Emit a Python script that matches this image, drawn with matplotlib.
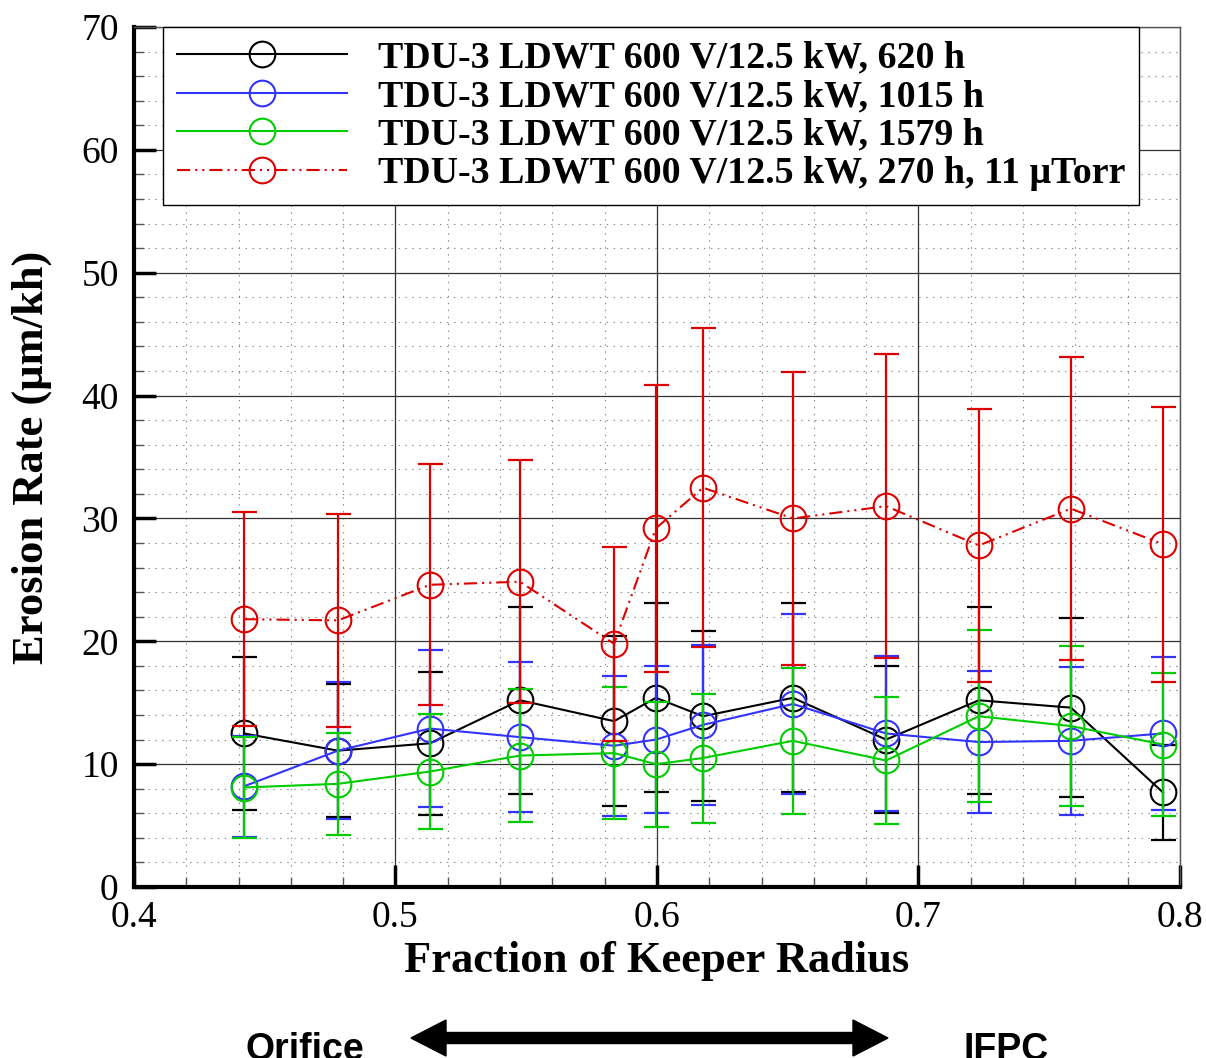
import matplotlib
matplotlib.use("Agg")
import matplotlib.pyplot as plt
from matplotlib.patches import FancyArrow
from matplotlib.ticker import MultipleLocator

plt.rcParams['font.family'] = ['Liberation Serif', 'DejaVu Serif']
plt.rcParams['lines.scale_dashes'] = False

# Fraction of keeper radius (same for all runs)
radius = [0.4421, 0.4780, 0.5132, 0.5476, 0.5836, 0.5996,
          0.6176, 0.6520, 0.6876, 0.7231, 0.7583, 0.7935]

# erosion rate (um/kh) and +/- uncertainty
rate_620 = [12.5, 11.1, 11.7, 15.2, 13.5, 15.4, 13.9, 15.4, 12.0, 15.2, 14.6, 7.7]
err_620 = [6.2, 5.4, 5.8, 7.6, 6.9, 7.7, 6.9, 7.7, 6.0, 7.6, 7.3, 3.9]

rate_1015 = [8.2, 11.1, 12.9, 12.2, 11.5, 12.0, 13.2, 14.9, 12.5, 11.8, 11.9, 12.5]
err_1015 = [4.1, 5.6, 6.4, 6.1, 5.7, 6.0, 6.5, 7.3, 6.3, 5.8, 6.0, 6.2]

rate_1579 = [8.1, 8.4, 9.4, 10.7, 10.9, 10.0, 10.5, 11.9, 10.3, 13.9, 13.1, 11.6]
err_1579 = [4.1, 4.15, 4.7, 5.4, 5.4, 5.1, 5.25, 5.95, 5.2, 7.0, 6.5, 5.8]

rate_270 = [21.8, 21.7, 24.6, 24.85, 19.8, 29.2, 32.5, 30.0, 31.0, 27.8, 30.8, 27.9]
err_270 = [8.7, 8.7, 9.8, 9.9, 7.9, 11.7, 13.0, 11.95, 12.35, 11.1, 12.3, 11.2]

labels = ['TDU-3 LDWT 600 V/12.5 kW, 620 h',
          'TDU-3 LDWT 600 V/12.5 kW, 1015 h',
          'TDU-3 LDWT 600 V/12.5 kW, 1579 h',
          'TDU-3 LDWT 600 V/12.5 kW, 270 h, 11 \u03bcTorr']
colors = ['black', '#3333ff', '#00cc00', '#dd0000']

fig = plt.figure(figsize=(12.06, 10.58), dpi=100)
ax = fig.add_axes([0.1111, 0.1616, 0.8673, 0.8129])

series = [(rate_620, err_620), (rate_1015, err_1015),
          (rate_1579, err_1579), (rate_270, err_270)]
handles = []
for (vals, errs), lab, col in zip(series, labels, colors):
    if col == '#dd0000':
        ls = (0, (9.5, 3.6, 1.5, 3.6, 1.5, 3.6))
    else:
        ls = '-'
    ln, = ax.plot(radius, vals, color=col, ls=ls, lw=1.5, marker='o', ms=18.5,
                  mfc='none', mec=col, mew=1.5, label=lab)
    ax.errorbar(radius, vals, yerr=errs, fmt='none', ecolor=col,
                elinewidth=1.6, capsize=9, capthick=1.6)
    handles.append(ln)

ax.set_xlim(0.4, 0.8)
ax.set_ylim(0, 70)
ax.xaxis.set_major_locator(MultipleLocator(0.1))
ax.xaxis.set_minor_locator(MultipleLocator(0.02))
ax.yaxis.set_major_locator(MultipleLocator(10))
ax.yaxis.set_minor_locator(MultipleLocator(2))
ax.set_axisbelow(True)
ax.grid(which='major', color='#333333', lw=0.9, ls='-')
ax.grid(which='minor', color='#888888', lw=0.8, ls=(0, (1, 4)))

for s in ['left', 'bottom']:
    ax.spines[s].set_linewidth(3)
    ax.spines[s].set_color('black')
for s in ['top', 'right']:
    ax.spines[s].set_linewidth(1)
    ax.spines[s].set_color('#555555')

ax.tick_params(which='major', direction='in', length=16, width=2.5,
               labelsize=27, top=False, right=False)
ax.tick_params(axis='y', which='major', pad=11)
ax.tick_params(axis='x', which='major', pad=9.5)
ax.tick_params(which='minor', direction='in', length=7.5, width=1,
               color='#555555', top=False, right=False)

ax.set_xlabel('Fraction of Keeper Radius', fontsize=32, fontweight='bold')
ax.set_ylabel('Erosion Rate (\u03bcm/kh)', fontsize=32, fontweight='bold')
ax.xaxis.set_label_coords(0.5, -0.063)
ax.yaxis.set_label_coords(-0.078, 0.5)

leg = ax.legend(handles=handles, loc='upper left', bbox_to_anchor=(0.0277, 1.0),
                borderaxespad=0, fancybox=False, edgecolor='black',
                prop={'weight': 'bold', 'size': 27.3}, numpoints=1,
                handlelength=4.5, handletextpad=0.8, labelspacing=0.09,
                borderpad=0.36, framealpha=1)
leg.get_frame().set_linewidth(1)

# Orifice <-> IFPC annotation below the axis
tr = fig.dpi_scale_trans
mid = 6.495
fig.add_artist(FancyArrow(mid, 0.20, 4.11 - mid, 0, width=0.11, head_width=0.36,
                          head_length=0.35, length_includes_head=True,
                          color='black', transform=tr))
fig.add_artist(FancyArrow(mid, 0.20, 8.88 - mid, 0, width=0.11, head_width=0.36,
                          head_length=0.35, length_includes_head=True,
                          color='black', transform=tr))
fig.text(246 / 1206, -0.002, 'Orifice', fontfamily='Liberation Sans',
         fontweight='bold', fontsize=27, va='baseline', ha='left')
fig.text(964 / 1206, -0.002, 'IFPC', fontfamily='Liberation Sans',
         fontweight='bold', fontsize=27, va='baseline', ha='left')

fig.savefig('out.png', dpi=100)
